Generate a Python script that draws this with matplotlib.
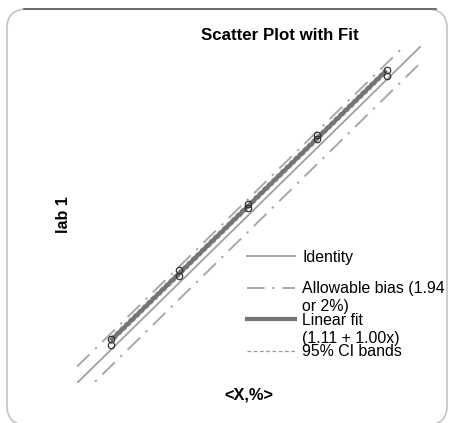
import numpy as np
import matplotlib
matplotlib.use("Agg")
import matplotlib.pyplot as plt
from matplotlib.patches import FancyBboxPatch
from matplotlib.lines import Line2D

plt.rcParams['font.family'] = ['Liberation Sans', 'DejaVu Sans']

# data
x_mean = np.array([3.9, 11.9, 19.9, 27.9, 36.0])
lab1_rep1 = np.array([5.2, 13.4, 21.3, 29.4, 37.1])
lab1_rep2 = np.array([4.5, 12.7, 20.8, 29.0, 36.4])
fit_intercept, fit_slope = 1.11, 1.00
ci_halfwidth = 0.35
bias = 1.94
axis_range = [0, 40]

labels = ["Identity", "Allowable bias (1.94", "Linear fit", "95% CI bands"]
label_cont = [None, "or 2%)", "(1.11 + 1.00x)", None]

W, H = 449, 423
fig = plt.figure(figsize=(W / 100, H / 100), dpi=100)

# rounded frame around the figure (runs off the bottom edge)
frame = FancyBboxPatch((7 / W, 1 - 425 / H), 440 / W, 416 / H,
                       boxstyle="round,pad=0,rounding_size=0.045",
                       transform=fig.transFigure, fc='none', ec='#c4c4c4',
                       lw=1.2, clip_on=False, zorder=-1)
fig.patches.append(frame)
fig.add_artist(Line2D([24 / W, 436 / W], [1 - 9.5 / H, 1 - 9.5 / H],
                      transform=fig.transFigure, color='#5a5a5a', lw=1.2))

ax = fig.add_axes([77 / W, 1 - 383 / H, 344 / W, 337 / H])
ax.set_xlim(axis_range)
ax.set_ylim(axis_range)
ax.axis('off')

grid = np.array(axis_range, dtype=float)
ax.plot(grid, grid, color='#a0a0a0', lw=1.3)
ax.plot(grid, grid + bias, color='#a8a8a8', lw=1.4, dashes=(9, 4, 1.2, 4))
ax.plot(grid, grid - bias, color='#a8a8a8', lw=1.4, dashes=(9, 4, 1.2, 4))

xf = np.array([x_mean.min(), x_mean.max()])
yf = fit_intercept + fit_slope * xf
ax.plot(xf, yf + ci_halfwidth, color='#9a9a9a', lw=0.9, ls=(0, (3, 2)))
ax.plot(xf, yf - ci_halfwidth, color='#9a9a9a', lw=0.9, ls=(0, (3, 2)))
ax.plot(xf, yf, color='#747474', lw=3.0, solid_capstyle='butt')

for ys in (lab1_rep1, lab1_rep2):
    ax.plot(x_mean, ys, 'o', ms=4.6, mfc='none', mec='#333333', mew=0.9)

handles = [
    Line2D([], [], color='#a0a0a0', lw=1.3),
    Line2D([], [], color='#a8a8a8', lw=1.4, dashes=(9, 4, 1.2, 4)),
    Line2D([], [], color='#747474', lw=3.0),
    Line2D([], [], color='#9a9a9a', lw=0.9, ls=(0, (3, 2))),
]
leg = ax.legend(handles, labels, loc='upper left',
                bbox_to_anchor=(247 / W, 1 - 250 / H),
                bbox_transform=fig.transFigure, frameon=False,
                fontsize=11.4, handlelength=3.05, handletextpad=0.45,
                labelspacing=1.04, borderpad=0, borderaxespad=0)

fig.text(280 / W, 1 - 35 / H, "Scatter Plot with Fit", ha='center',
         va='center', fontsize=12.2, fontweight='bold')
fig.text(249 / W, 1 - 395 / H, "<X,%>", ha='center', va='center',
         fontsize=11.8, fontweight='bold')
fig.text(63 / W, 1 - 215 / H, "lab 1", ha='center', va='center',
         rotation=90, fontsize=11.6, fontweight='bold')

# second lines of wrapped legend labels sit under the first line
fig.canvas.draw()
renderer = fig.canvas.get_renderer()
inv = fig.transFigure.inverted()
for txt, extra in zip(leg.get_texts(), label_cont):
    if extra is None:
        continue
    bb = txt.get_window_extent(renderer)
    fx, fy = inv.transform((bb.x0, bb.y0 + 3))
    fig.text(fx, fy - 21 / H, extra, fontsize=11.4, ha='left', va='bottom')

fig.savefig("out.png", dpi=100)
